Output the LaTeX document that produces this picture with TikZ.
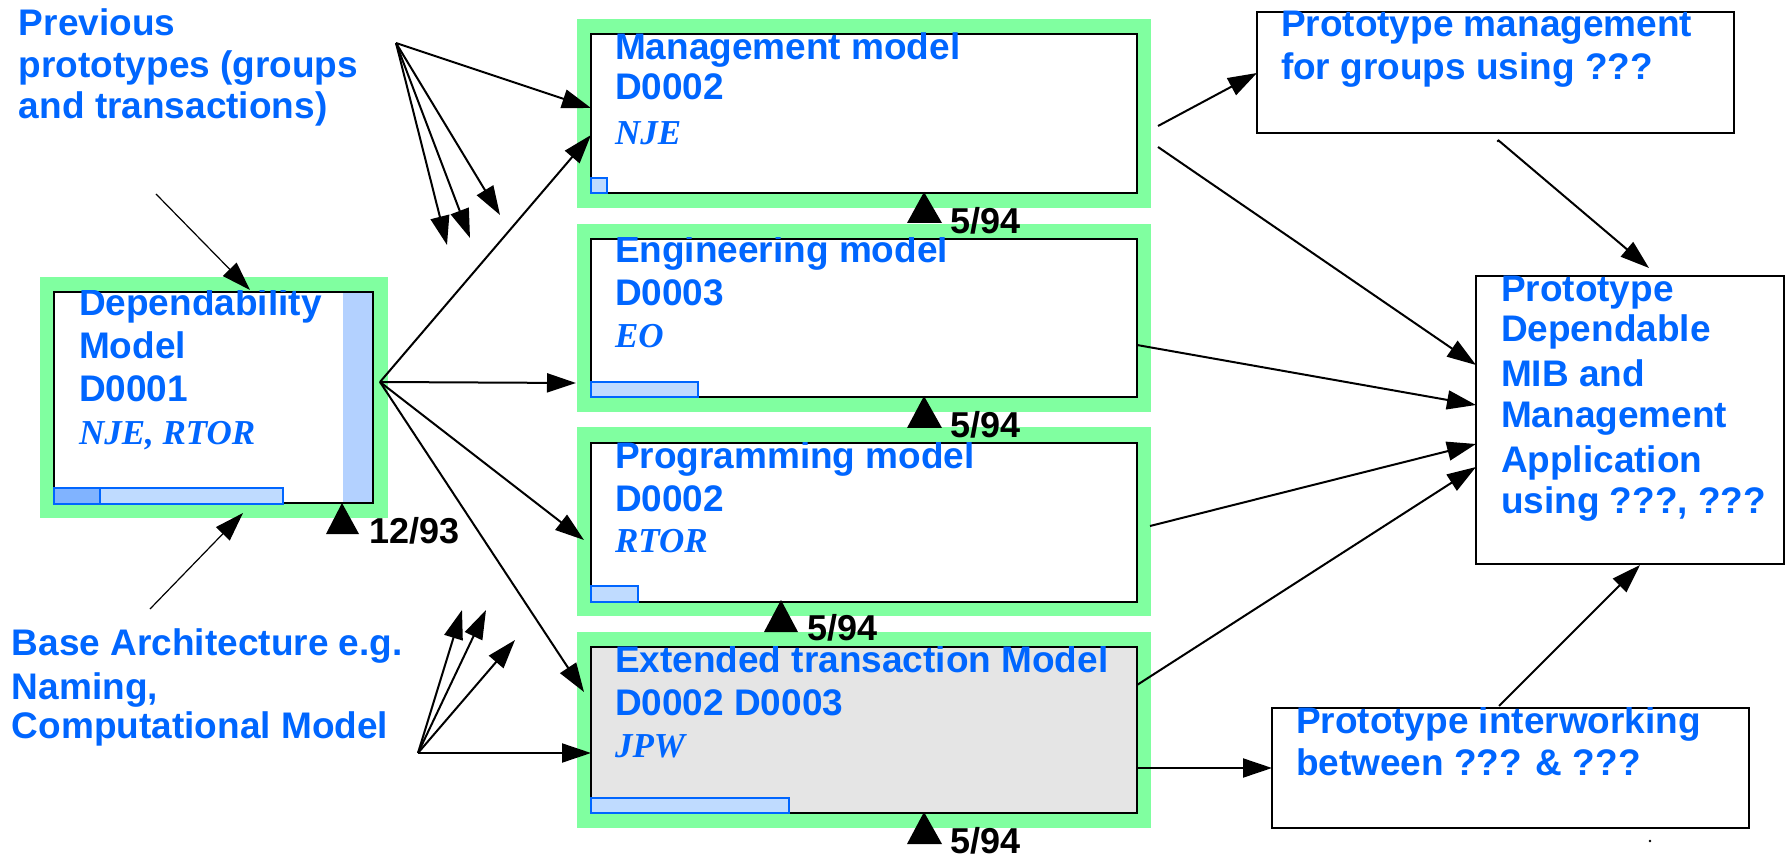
\documentclass[tikz,border=0pt]{standalone}
\usepackage{fontspec}
\setmainfont{Liberation Sans}
\newfontfamily\tnr{Liberation Serif}
\usetikzlibrary{arrows.meta,calc}
\definecolor{grn}{RGB}{128,255,160}
\definecolor{tblue}{RGB}{0,102,255}
\definecolor{barfill}{RGB}{191,219,255}
\definecolor{bardark}{RGB}{128,179,255}
\definecolor{vbar}{RGB}{179,209,255}
\definecolor{extgray}{RGB}{229,229,229}
\begin{document}
\begin{tikzpicture}[x=1pt,y=-1pt,
  greenframe/.style={fill=grn,draw=none,inner sep=0pt,outer sep=0pt,anchor=north west},
  modelbox/.style={draw=black,line width=2.5pt,fill=white,inner sep=0pt,outer sep=0pt,anchor=north west},
  title/.style={font=\fontsize{37}{44}\selectfont\bfseries,text=tblue,anchor=base west,inner sep=0pt,outer sep=0pt},
  owner/.style={font=\fontsize{35}{42}\selectfont\tnr\bfseries\itshape,text=tblue,anchor=base west,inner sep=0pt,outer sep=0pt},
  datelbl/.style={font=\fontsize{36}{43}\selectfont\bfseries,text=black,anchor=base west,inner sep=0pt,outer sep=0pt},
  arr/.style={-{Triangle[length=29pt,width=19pt]},line width=2pt},
  thinarr/.style={-{Triangle[length=29pt,width=19pt]},line width=1.2pt},
  bar/.style={fill=barfill,draw=tblue,line width=1.8pt},
  milestone/.style={fill=black}
]
\useasboundingbox (0,0) rectangle (1786,858);

% ---------- left free texts ----------
\node[title] (prevA) at (19,36) {Previous};
\node[title] (prevB) at (19,78) {prototypes (groups};
\node[title] (prevC) at (19,119) {and transactions)};
\node[title] (baseA) at (12,655) {Base Architecture e.g.};
\node[title] (baseB) at (12,699) {Naming,};
\node[title] (baseC) at (12,738) {Computational Model};

% ---------- dependability model ----------
\node[greenframe,minimum width=348pt,minimum height=241pt] (depG) at (40,277) {};
\node[modelbox,minimum width=319pt,minimum height=211pt] (dep) at (54,292) {};
\fill[vbar] (343,293.5) rectangle (372,502);
\filldraw[bar,fill=bardark] (54,488) rectangle (100,504);
\filldraw[bar] (100,488) rectangle (283,504);
\begin{scope}
\clip ($(dep.north west)+(0,-1)$) rectangle (dep.south east);
\node[title] (depT1) at (79,316) {Dependability};
\node[title] (depT2) at (79,359) {Model};
\node[title] (depT3) at (79,402) {D0001};
\node[owner] (depO) at (79,444) {NJE, RTOR};
\end{scope}

% ---------- management model ----------
\node[greenframe,minimum width=574pt,minimum height=189pt] (mgmtG) at (577,19) {};
\node[modelbox,minimum width=546pt,minimum height=159pt] (mgmt) at (591,34) {};
\filldraw[bar] (591,178) rectangle (607,193);
\begin{scope}
\clip ($(mgmt.north west)+(0,-1)$) rectangle (mgmt.south east);
\node[title] (mgmtT1) at (615,60) {Management model};
\node[title] (mgmtT2) at (615,100) {D0002};
\node[owner] (mgmtO) at (615,145) {NJE};
\end{scope}

% ---------- engineering model ----------
\node[greenframe,minimum width=574pt,minimum height=188pt] (engG) at (577,224) {};
\node[modelbox,minimum width=546pt,minimum height=158pt] (eng) at (591,239) {};
\filldraw[bar] (591,382) rectangle (698,397);
\begin{scope}
\clip ($(eng.north west)+(0,-1)$) rectangle (eng.south east);
\node[title] (engT1) at (615,263) {Engineering model};
\node[title] (engT2) at (615,306) {D0003};
\node[owner] (engO) at (615,348) {EO};
\end{scope}

% ---------- programming model ----------
\node[greenframe,minimum width=574pt,minimum height=189pt] (progG) at (577,427) {};
\node[modelbox,minimum width=546pt,minimum height=159pt] (prog) at (591,443) {};
\filldraw[bar] (591,586) rectangle (638,602);
\begin{scope}
\clip ($(prog.north west)+(0,-1)$) rectangle (prog.south east);
\node[title] (progT1) at (615,468) {Programming model};
\node[title] (progT2) at (615,511) {D0002};
\node[owner] (progO) at (615,552) {RTOR};
\end{scope}

% ---------- extended transaction model ----------
\node[greenframe,minimum width=574pt,minimum height=196pt] (extG) at (577,632) {};
\node[modelbox,fill=extgray,minimum width=546pt,minimum height=166pt] (ext) at (591,647) {};
\filldraw[bar] (591,798) rectangle (789,813);
\begin{scope}
\clip ($(ext.north west)+(0,-1)$) rectangle (ext.south east);
\node[title] (extT1) at (615,672) {Extended transaction Model};
\node[title] (extT2) at (615,715) {D0002 D0003};
\node[owner] (extO) at (615,757) {JPW};
\end{scope}

% ---------- right boxes ----------
\node[modelbox,minimum width=477pt,minimum height=121pt] (pm) at (1257,12) {};
\begin{scope}
\clip ($(pm.north west)+(0,-1)$) rectangle (pm.south east);
\node[title] (pmT1) at (1281,37) {Prototype management};
\node[title] (pmT2) at (1281,80) {for groups using ???};
\end{scope}

\node[modelbox,minimum width=308pt,minimum height=288pt] (big) at (1476,276) {};
\begin{scope}
\clip ($(big.north west)+(0,-1)$) rectangle (big.south east);
\node[title] (bigT1) at (1501,302) {Prototype};
\node[title] (bigT2) at (1501,342) {Dependable};
\node[title] (bigT3) at (1501,387) {MIB and};
\node[title] (bigT4) at (1501,428) {Management};
\node[title] (bigT5) at (1501,472) {Application};
\node[title] (bigT6) at (1501,513) {using ???, ???};
\end{scope}

\node[modelbox,minimum width=477pt,minimum height=120pt] (iw) at (1272,708) {};
\begin{scope}
\clip ($(iw.north west)+(0,-1)$) rectangle (iw.south east);
\node[title] (iwT1) at (1296,733) {Prototype interworking};
\node[title] (iwT2) at (1296,775) {between ??? \& ???};
\end{scope}

\fill (1498,141) circle (1.3pt);
\fill (1650,841) circle (1.3pt);

% ---------- milestones ----------
\fill[milestone] (342,503) -- (359,534) -- (326,534) -- cycle;
\node[datelbl] (d1) at (369,543) {12/93};
\fill[milestone] (924,192) -- (942,223) -- (907,223) -- cycle;
\node[datelbl] (d2) at (950,234) {5/94};
\fill[milestone] (924,396) -- (942,428) -- (907,428) -- cycle;
\node[datelbl] (d3) at (950,438) {5/94};
\fill[milestone] (781,600) -- (798,632) -- (764,632) -- cycle;
\node[datelbl] (d4) at (807,640) {5/94};
\fill[milestone] (924,812) -- (942,844) -- (907,844) -- cycle;
\node[datelbl] (d5) at (950,853) {5/94};

% ---------- fan points ----------
\coordinate (P0) at (396,43);
\coordinate (pt1) at (447,245);
\coordinate (pt2) at (470,238);
\coordinate (pt3) at (500,215);
\coordinate (D0) at (380,382);
\coordinate (B0) at (418,753);
\coordinate (pb1) at (462,610);
\coordinate (pb2) at (486,610);
\coordinate (pb3) at (515,640);
\coordinate (tA) at (156,194);
\coordinate (tB) at (150,609);

% ---------- connectors ----------
\draw[arr] (P0) -- ($(mgmt.north west)+(0,74)$);
\draw[arr] (P0) -- (pt1);
\draw[arr] (P0) -- (pt2);
\draw[arr] (P0) -- (pt3);

\draw[arr] (D0) -- ($(mgmt.north west)+(0,101)$);
\draw[arr] (D0) -- ($(eng.north west)+(-15,144)$);
\draw[arr] (D0) -- ($(prog.north west)+(-7,97)$);
\draw[arr] (D0) -- ($(ext.north west)+(-7,45)$);

\draw[arr] (B0) -- ($(ext.north west)+(0,106)$);
\draw[arr] (B0) -- (pb1);
\draw[arr] (B0) -- (pb2);
\draw[arr] (B0) -- (pb3);

\draw[thinarr] (tA) -- ($(dep.north west)+(196,-2)$);
\draw[thinarr] (tB) -- ($(dep.north west)+(189,221)$);

\draw[arr] ($(mgmt.north east)+(21,92)$) -- ($(pm.north west)+(0,61)$);
\draw[arr] ($(mgmt.north east)+(21,113)$) -- ($(big.north west)+(0,89)$);
\draw[arr] ($(pm.north west)+(241,128)$) -- ($(big.north west)+(173,-8)$);
\draw[arr] ($(eng.north east)+(0,106)$) -- ($(big.north west)+(0,129)$);
\draw[arr] ($(prog.north east)+(13,83)$) -- ($(big.north west)+(0,168)$);
\draw[arr] ($(ext.north east)+(0,38)$) -- ($(big.north west)+(0,191)$);
\draw[arr] ($(ext.north east)+(0,121)$) -- ($(iw.north west)+(0,60)$);
\draw[arr] ($(iw.north west)+(227,-2)$) -- ($(big.south west)+(164,1)$);
\end{tikzpicture}
\end{document}
